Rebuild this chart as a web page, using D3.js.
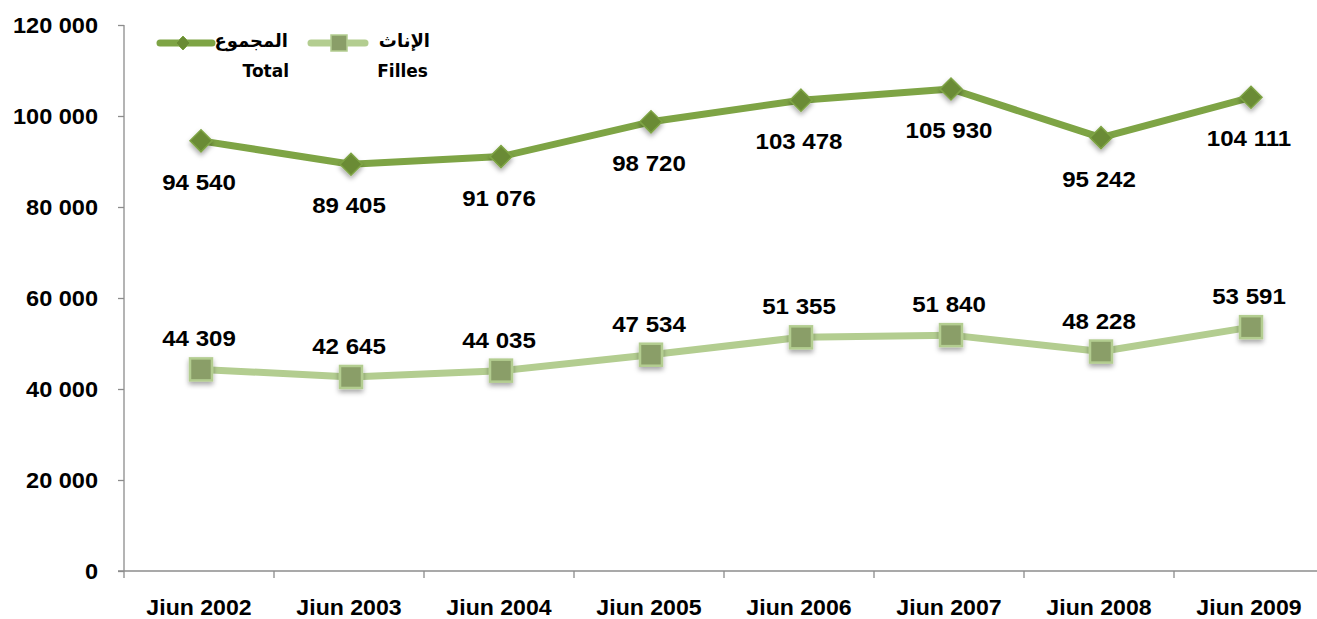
<!DOCTYPE html>
<html><head><meta charset="utf-8">
<script src="https://cdn.jsdelivr.net/npm/d3@7"></script>
<style>
html,body{margin:0;padding:0;background:#fff;}
svg{display:block;}
text{font-family:"Liberation Sans",Arial,sans-serif;font-weight:bold;fill:#000;}
</style></head>
<body>
<script>
const categories = ["Jiun 2002","Jiun 2003","Jiun 2004","Jiun 2005","Jiun 2006","Jiun 2007","Jiun 2008","Jiun 2009"];
const totalValues = [94540, 89405, 91076, 98720, 103478, 105930, 95242, 104111];
const fillesValues = [44309, 42645, 44035, 47534, 51355, 51840, 48228, 53591];
const yTicks = [0, 20000, 40000, 60000, 80000, 100000, 120000];
const totalLabelAr = "المجموع", totalLabelFr = "Total";
const fillesLabelAr = "الإناث", fillesLabelFr = "Filles";

const W = 1317, H = 619;
const colTotalLine = "#7ea445", colTotalMarker = "#6a8b34";
const colFillesLine = "#b3cd90", colFillesMarker = "#8a9e68";

const svg = d3.select("body").append("svg").attr("width", W).attr("height", H);
const defs = svg.append("defs");
const f = defs.append("filter").attr("id","sh").attr("x","-50%").attr("y","-50%").attr("width","200%").attr("height","200%");
f.append("feDropShadow").attr("dx",0).attr("dy",3).attr("stdDeviation",2.5).attr("flood-color","#000").attr("flood-opacity",0.35);

const x = d3.scaleBand().domain(categories).range([124, 1324]).padding(0);
const y = d3.scaleLinear().domain([0, 120000]).range([571, 25]);
const fmt = v => d3.format(",")(v).replace(/,/g, " ");
const sx = 1.07;

// Y axis
const yAxis = svg.append("g").attr("transform","translate(124,0)")
  .call(d3.axisLeft(y).tickValues(yTicks).tickSize(6).tickFormat(fmt).tickPadding(20));
yAxis.select(".domain").attr("stroke","#8c8c8c").attr("stroke-width",1.3).attr("d","M0,25V571");
yAxis.selectAll(".tick line").attr("stroke","#8c8c8c").attr("stroke-width",1.3);
yAxis.selectAll(".tick text").attr("font-size",22).attr("fill","#000")
  .attr("x", null).attr("dy","0.36em")
  .attr("transform", `translate(-26,0) scale(${sx},1)`).attr("text-anchor","end");

// X axis
const xAxis = svg.append("g").attr("transform","translate(0,571)")
  .call(d3.axisBottom(x).tickSize(0).tickPadding(0));
xAxis.select(".domain").attr("stroke","#8c8c8c").attr("stroke-width",1.3).attr("d","M118,0H1324");
xAxis.selectAll(".tick text").attr("font-size",22).attr("fill","#000")
  .attr("y", null).attr("dy", null)
  .attr("transform", `translate(0,44) scale(${1.05},1)`);
// boundary ticks
const bounds = categories.map(c => x(c)).concat([x(categories[categories.length-1]) + x.bandwidth()]);
svg.append("g").selectAll("line").data(bounds).join("line")
  .attr("x1", d => d).attr("x2", d => d).attr("y1", 571).attr("y2", 578)
  .attr("stroke","#8c8c8c").attr("stroke-width",1.3);

const cx = c => x(c) + x.bandwidth()/2 + 2;
const line = d3.line().x((d,i) => cx(categories[i])).y(d => y(d));

// Filles series
svg.append("path").datum(fillesValues).attr("d", line).attr("fill","none")
  .attr("stroke", colFillesLine).attr("stroke-width", 7).attr("stroke-linejoin","round").attr("stroke-linecap","round");
svg.append("g").selectAll("rect").data(fillesValues).join("rect")
  .attr("x",(d,i)=>cx(categories[i])-11).attr("y",d=>y(d)-11).attr("width",22).attr("height",22)
  .attr("fill", colFillesMarker).attr("stroke", colFillesLine).attr("stroke-width",2.5)
  .attr("filter","url(#sh)");

// Total series
svg.append("path").datum(totalValues).attr("d", line).attr("fill","none")
  .attr("stroke", colTotalLine).attr("stroke-width", 7).attr("stroke-linejoin","round").attr("stroke-linecap","round");
const diamond = "M0,-11L11,0L0,11L-11,0Z";
svg.append("g").selectAll("path").data(totalValues).join("path")
  .attr("d", diamond)
  .attr("transform",(d,i)=>`translate(${cx(categories[i])},${y(d)})`)
  .attr("fill", colTotalMarker).attr("stroke", colTotalLine).attr("stroke-width",1.5)
  .attr("filter","url(#sh)");

// Data labels
svg.append("g").selectAll("text").data(totalValues).join("text")
  .attr("transform",(d,i)=>`translate(${cx(categories[i])-2},${y(d)+41}) scale(${sx},1)`)
  .attr("text-anchor","middle").attr("dy","0.36em").attr("font-size",22.5).text(fmt);
svg.append("g").selectAll("text").data(fillesValues).join("text")
  .attr("transform",(d,i)=>`translate(${cx(categories[i])-2},${y(d)-31}) scale(${sx},1)`)
  .attr("text-anchor","middle").attr("dy","0.36em").attr("font-size",22.5).text(fmt);

// Legend
const lg = svg.append("g");
const legendFont = '"DejaVu Sans", sans-serif';
// Total
lg.append("line").attr("x1",160).attr("x2",212).attr("y1",43).attr("y2",43)
  .attr("stroke",colTotalLine).attr("stroke-width",7).attr("stroke-linecap","round");
lg.append("path").attr("d","M0,-7L7,0L0,7L-7,0Z").attr("transform","translate(183,43)")
  .attr("fill",colTotalMarker).attr("stroke",colTotalLine).attr("stroke-width",1);
lg.append("text").attr("x",288).attr("y",41).attr("dy","0.35em").attr("text-anchor","end")
  .attr("font-size",18).style("font-family",legendFont).text(totalLabelAr);
lg.append("text").attr("x",289).attr("y",71).attr("dy","0.35em").attr("text-anchor","end")
  .attr("font-size",17).style("font-family",legendFont).text(totalLabelFr);
// Filles
lg.append("line").attr("x1",311).attr("x2",365).attr("y1",43).attr("y2",43)
  .attr("stroke",colFillesLine).attr("stroke-width",7).attr("stroke-linecap","round");
lg.append("rect").attr("x",331).attr("y",35).attr("width",16).attr("height",16)
  .attr("fill",colFillesMarker).attr("stroke",colFillesLine).attr("stroke-width",1.5);
lg.append("text").attr("x",430).attr("y",41).attr("dy","0.35em").attr("text-anchor","end")
  .attr("font-size",18).style("font-family",legendFont).text(fillesLabelAr);
lg.append("text").attr("x",428).attr("y",71).attr("dy","0.35em").attr("text-anchor","end")
  .attr("font-size",17).style("font-family",legendFont).text(fillesLabelFr);
</script>
</body></html>
